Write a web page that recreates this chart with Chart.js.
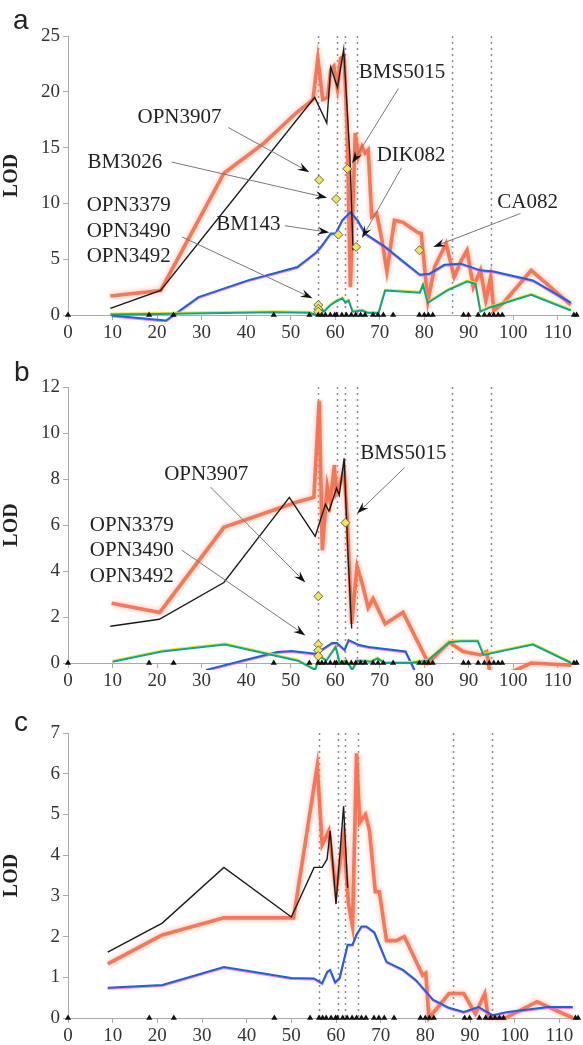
<!DOCTYPE html>
<html><head><meta charset="utf-8">
<script src="https://cdn.jsdelivr.net/npm/chart.js@4.4.1/dist/chart.umd.min.js"></script>
<style>
html,body{margin:0;padding:0;background:#fff}
body{width:583px;height:1045px;position:relative;overflow:hidden}
.pane{position:absolute;left:0;width:583px}
.pane canvas{display:block}
.letter{position:absolute;font-family:"Liberation Sans",Arial,sans-serif;font-size:28px;line-height:1;color:#222}
</style></head><body>
<div class="pane" style="top:0;height:345px"><canvas id="ca" width="583" height="345"></canvas></div>
<div class="pane" style="top:345px;height:350px"><canvas id="cb" width="583" height="350"></canvas></div>
<div class="pane" style="top:695px;height:350px"><canvas id="cc" width="583" height="350"></canvas></div>
<div class="letter" style="left:13px;top:6px">a</div>
<div class="letter" style="left:14px;top:358px">b</div>
<div class="letter" style="left:14px;top:708px">c</div>
<script>
// ---------- shared data ----------
const xTickValues = [0,10,20,30,40,50,60,70,80,90,100,110];
const markerPos = [0,18.2,23.7,46.2,54.2,56.2,57,57.8,58.9,59.9,60.3,61.5,62.5,63.6,64.6,65.7,66.7,68.5,69.6,70.8,73,78.9,80,80.9,81.9,88.8,89.9,92.1,93.5,94.6,95.6,96.6,97.5,113.6,114.2];
const dottedPos = [56.2,60.4,62.1,65,86.2,95];

// ---------- panel a ----------
const aOrange = [[9.5,1.7],[20.8,2.2],[35,12.7],[44,15.4],[51.2,18.1],[55,19.3],[56.1,23.0],[57.2,19.3],[58.3,19.5],[59,22],[59.7,22.3],[60.5,20.3],[61.2,23],[62,23.2],[62.7,16.3],[63.4,2.5],[64.5,16.3],[65.2,14.2],[66,15.1],[66.7,14.5],[67.4,14.8],[68.2,8.8],[69.3,9.1],[70.5,6.7],[71.6,3.9],[73.3,8.5],[75.2,8.3],[78.5,7.4],[79.3,7.3],[80.8,1.2],[82.3,4.3],[84.9,6.4],[86.7,3.4],[88.3,4.9],[89.6,5.8],[91,2.5],[92.6,4.0],[93.8,1.3],[94.9,3.4],[95.6,0.4],[97.8,1.1],[104,4.0],[112.9,0.9]];
const aBlack = [[9.5,0.6],[20.8,2.2],[55.4,19.5],[58.1,17.2],[59,22.2],[60.5,20.4],[61.9,23.8],[63.3,14.2],[64,5.8]];
const aBlue = [[9.8,-0.05],[19.5,-0.4],[22,-0.5],[29.3,1.6],[40.4,3.1],[51.5,4.3],[55.7,5.6],[56.8,6.1],[59,7.3],[60.1,7.3],[61.6,8.5],[63.4,9.2],[65,8.5],[66.7,7.3],[71.2,6.1],[79,3.6],[81.2,3.7],[84.5,4.5],[88.2,4.6],[92.6,4.0],[95.6,3.9],[104.4,3.1],[112.9,1.1]];
const aGreen = [[9.5,0.05],[20,0.1],[46,0.25],[54,0.2],[55.7,0.0],[56.3,0.8],[57.5,0.3],[58.2,0.6],[59,0.9],[60.1,1.2],[61.6,1.5],[62.3,1.1],[63,1.3],[63.9,0.3],[66,0.4],[67.2,0.2],[69.7,0.15],[71.2,2.2],[79,2.0],[79.7,2.7],[80.8,1.1],[85.2,2.2],[89.6,3.0],[91.5,2.8],[92.6,0.3],[94.9,0.7],[104,1.8],[112.9,0.4]];
const aDiamonds = [[56.4,12.1],[60.2,10.4],[62.7,13.1],[60.7,7.2],[64.7,6.1],[78.9,5.8],[56.2,0.9],[56.2,0.55],[56.2,0.3]];
const aLabels = [
  {t:['OPN3907'], at:[15.6,17.7], from:[36,16.8], to:[54.2,12.8]},
  {t:['BM3026'], at:[4.4,13.7], from:[23.3,13.7], to:[58.2,10.5]},
  {t:['BMS5015'], at:[65.3,21.7], from:[74.2,20.3], to:[63.8,13.6]},
  {t:['DIK082'], at:[69.3,14.3], from:[74.9,13.2], to:[66,6.9]},
  {t:['CA082'], at:[96.4,10.1], from:[101.6,9.1], to:[82,6.1]},
  {t:['BM143'], at:[33.3,8.1], from:[48.7,8.0], to:[58.7,7.4]},
  {t:['OPN3379','OPN3490','OPN3492'], at:[4.2,9.8], from:[25.6,7.0], to:[54.9,1.5]}
];

// ---------- panel b ----------
const bOrange = [[9.8,2.6],[20.6,2.2],[35,5.9],[51.4,7.0],[55.2,7.2],[56.4,11.4],[57.1,4.9],[58.2,7.7],[58.9,7.0],[59.8,8.6],[60.2,7.4],[61.1,7.8],[62,8.4],[62.7,6.3],[63.7,1.7],[64.9,4.2],[66,3.5],[67.4,2.4],[68.5,2.8],[71.2,1.7],[75.2,2.2],[80.9,0],[85.6,0.9],[88.7,0.5],[92.6,0.35],[94,0.5],[95,-0.8],[104,0],[113,-0.1]];
const bBlack = [[9.5,1.6],[20.5,1.9],[35,3.5],[49.7,7.2],[55.5,5.5],[57.8,6.9],[58.6,6.6],[60.3,7.6],[60.9,7.3],[62,8.9],[62.8,5],[63.7,1.5]];
const bBlue = [[31,-0.3],[40.2,0.15],[47,0.48],[50.2,0.52],[55.6,0.4],[57.2,0.6],[59.3,0.87],[60.4,0.87],[62.1,0.57],[63,1.0],[65.4,0.78],[67.5,0.7],[75.8,0.5],[77.8,-0.3]];
const bGreen = [[10,0.05],[21.1,0.5],[35.3,0.8],[51.6,0.1],[55.5,-0.3],[56.5,0.3],[58,0.1],[60.1,0.7],[61,0.0],[62.5,0.1],[63.8,-0.3],[65,0.1],[68,0.05],[69.5,0.2],[71,0],[76.7,0],[80.7,0.1],[85.6,0.9],[88.2,0.95],[92,0.95],[93.3,0.35],[104.4,0.8],[113,0]];
const bDiamonds = [[56.2,2.9],[62.3,6.1],[56.2,0.8],[56.2,0.55],[56.2,0.3]];
const bLabels = [
  {t:['OPN3907'], at:[21.6,8.2], from:[32,7.65], to:[53.3,3.5]},
  {t:['OPN3379','OPN3490','OPN3492'], at:[4.9,6.0], from:[25.6,4.9], to:[53.3,1.2]},
  {t:['BMS5015'], at:[65.6,9.1], from:[75.6,8.5], to:[64.9,6.5]}
];

// ---------- panel c ----------
const cOrange = [[8.9,1.33],[21.1,2.04],[34.9,2.46],[50.5,2.46],[55.8,6.2],[56.9,4.25],[58.4,4.6],[60,3.1],[61.7,4.45],[62.8,2.8],[63.7,2.25],[64.6,6.5],[65.3,4.8],[66.6,5.0],[67.5,4.6],[68.8,3.1],[69.7,3.1],[71.3,1.9],[73.5,1.9],[75.3,2.0],[79.4,1.05],[80.1,1.1],[80.8,0],[85.3,0.6],[88.6,0.6],[91.2,0.1],[93.3,0.6],[94.1,0],[97.9,0],[105,0.4],[113,0]];
const cBlack = [[8.9,1.62],[21.1,2.33],[34.9,3.7],[50,2.48],[55.1,3.7],[56.9,3.7],[58,3.9],[58.7,4.6],[60,2.8],[61.7,5.2],[62.6,3.2]];
const cBlue = [[8.9,0.74],[21.1,0.81],[34.9,1.25],[50,0.98],[55.1,0.97],[56.9,0.85],[58,1.13],[58.7,1.18],[59.8,0.88],[60.8,0.98],[62.6,1.8],[63.7,1.8],[64.6,2.05],[65.7,2.25],[66.8,2.25],[68.6,2.1],[71.3,1.38],[75,1.18],[77.9,0.93],[81.7,0.45],[85.3,0.25],[88.6,0.15],[91.9,0.27],[95,0.07],[98.5,0.15],[107.4,0.27],[113,0.27]];

// ---------- rendering ----------
const SERIF = '"Liberation Serif","Times New Roman",serif';
Chart.defaults.font.family = SERIF;
const pts = arr => arr.map(p => ({x:p[0], y:p[1]}));

const shadowPlugin = {
  id:'shadow',
  beforeDatasetDraw(chart, args){
    const ds = chart.data.datasets[args.index];
    if (ds.shColor){ const c = chart.ctx; c.save(); c.shadowColor = ds.shColor; c.shadowBlur = ds.shBlur||0; c.shadowOffsetX = 0; c.shadowOffsetY = ds.shY||0; ds._sh = true; }
  },
  afterDatasetDraw(chart, args){
    const ds = chart.data.datasets[args.index];
    if (ds._sh){ chart.ctx.restore(); ds._sh = false; }
  }
};

function arrow(ctx, x1, y1, x2, y2){
  const dx = x2-x1, dy = y2-y1, L = Math.hypot(dx,dy), ux = dx/L, uy = dy/L;
  const hl = 12, hw = 4;
  ctx.strokeStyle = '#777'; ctx.lineWidth = 1;
  ctx.beginPath(); ctx.moveTo(x1,y1); ctx.lineTo(x2-ux*hl*0.6, y2-uy*hl*0.6); ctx.stroke();
  ctx.fillStyle = '#111';
  ctx.beginPath();
  ctx.moveTo(x2,y2);
  ctx.lineTo(x2-ux*hl - uy*hw, y2-uy*hl + ux*hw);
  ctx.lineTo(x2-ux*hl*0.65, y2-uy*hl*0.65);
  ctx.lineTo(x2-ux*hl + uy*hw, y2-uy*hl - ux*hw);
  ctx.closePath(); ctx.fill();
}

const decoPlugin = {
  id:'deco',
  beforeDatasetsDraw(chart, args, opts){
    const {ctx, chartArea:a, scales:{x}} = chart;
    ctx.save();
    ctx.strokeStyle = '#8a8a8a'; ctx.lineWidth = 1.5; ctx.setLineDash([2,4]);
    for (const v of dottedPos){
      const px = Math.round(x.getPixelForValue(v)) + 0.5;
      ctx.beginPath(); ctx.moveTo(px, a.top); ctx.lineTo(px, a.bottom); ctx.stroke();
    }
    ctx.restore();
  },
  afterDatasetsDraw(chart, args, opts){
    const {ctx, scales:{x,y}} = chart;
    ctx.save();
    for (const l of (opts.labels||[])){
      arrow(ctx, x.getPixelForValue(l.from[0]), y.getPixelForValue(l.from[1]), x.getPixelForValue(l.to[0]), y.getPixelForValue(l.to[1]));
    }
    ctx.font = '21px ' + SERIF; ctx.fillStyle = '#222'; ctx.textBaseline = 'middle'; ctx.textAlign = 'left';
    for (const l of (opts.labels||[])){
      const lx = x.getPixelForValue(l.at[0]), ly = y.getPixelForValue(l.at[1]);
      l.t.forEach((s,i) => ctx.fillText(s, lx, ly + i*25.5));
    }
    ctx.restore();
  }
};

function panel(id, p){
  const clip = {left:false, right:false, top:false, bottom:7};
  const line = (data, color, w, order, extra) => Object.assign({type:'line', data:pts(data), borderColor:color, borderWidth:w, pointRadius:0, tension:0, fill:false, clip, order}, extra||{});
  const datasets = [
    {type:'scatter', data: markerPos.map(v => ({x:v, y:0})), pointStyle:'triangle', pointRadius:3.6, backgroundColor:'#111', borderColor:'#111', borderWidth:0, clip:false, order:0},
  ];
  if (p.diamonds) datasets.push({type:'scatter', data:pts(p.diamonds), pointStyle:'rectRot', pointRadius:4.5, backgroundColor:'#f2e35a', borderColor:'#666', borderWidth:1, clip:false, order:1});
  datasets.push(line(p.black, '#1a1a1a', 1.4, 2));
  datasets.push(line(p.blue, '#1f62d2', 2, 4, {shColor:'rgba(235,90,235,0.75)', shY:1}));
  if (p.green) datasets.push(line(p.green, '#10a58a', 2, 3, {shColor:'rgba(235,225,40,0.95)', shY:-1}));
  datasets.push(line(p.orange, 'rgba(242,112,82,0.92)', 3.6, 5, {shColor:'rgba(248,160,130,0.9)', shBlur:5}));

  const canvas = document.getElementById(id);
  const H = canvas.height;
  new Chart(canvas, {
    type:'line',
    data:{datasets},
    plugins:[shadowPlugin, decoPlugin],
    options:{
      responsive:false, animation:false, events:[],
      layout:{padding:{top:p.top, right:0, left:0, bottom:0}},
      plugins:{legend:{display:false}, tooltip:{enabled:false}, deco:{labels:p.labels||[]}},
      scales:{
        x:{type:'linear', min:0, max:114.4,
          afterBuildTicks: s => { s.ticks = xTickValues.map(v => ({value:v})); },
          afterFit: s => { s.height = H - p.bottom; },
          ticks:{font:{family:SERIF, size:19}, color:'#333', padding:2, maxRotation:0, autoSkip:false},
          grid:{drawOnChartArea:false, tickLength:5, color:'#aaa'},
          border:{color:'#aaa'}
        },
        y:{min:0, max:p.ymax,
          afterFit: s => { s.width = 68; },
          ticks:{stepSize:p.step, font:{family:SERIF, size:19}, color:'#333', padding:3},
          grid:{drawOnChartArea:false, tickLength:5, color:'#aaa'},
          border:{color:'#aaa'},
          title:{display:true, text:'LOD', font:{family:SERIF, size:20, weight:'bold'}, color:'#222', padding:{top:0,bottom:4}}
        }
      }
    }
  });
}

panel('ca', {orange:aOrange, black:aBlack, blue:aBlue, green:aGreen, diamonds:aDiamonds, labels:aLabels, ymax:25, step:5, top:36, bottom:315});
panel('cb', {orange:bOrange, black:bBlack, blue:bBlue, green:bGreen, diamonds:bDiamonds, labels:bLabels, ymax:12, step:2, top:42, bottom:318});
panel('cc', {orange:cOrange, black:cBlack, blue:cBlue, ymax:7, step:1, top:38, bottom:323});
</script>
</body></html>
